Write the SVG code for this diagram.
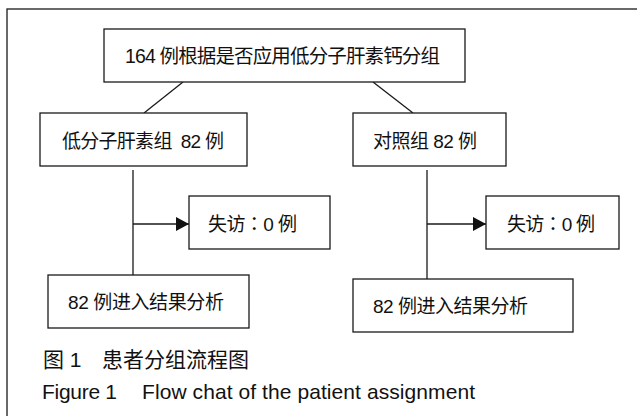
<svg xmlns="http://www.w3.org/2000/svg" width="637" height="416" viewBox="0 0 637 416">
<defs>
<style>
.box{fill:#fff;stroke:#1a1a1a;stroke-width:1.3}
.ln{fill:none;stroke:#1a1a1a;stroke-width:1.3}
text{font-family:"Liberation Sans","Noto Sans CJK SC",sans-serif;fill:#111;font-size:19px}
.top{font-size:19.5px}
.tc{font-family:"Liberation Sans","Noto Sans CJK TC",sans-serif}
.cap{font-size:21px}
</style>
<marker id="ah" markerWidth="13" markerHeight="14" refX="13" refY="7" orient="auto" markerUnits="userSpaceOnUse">
<path d="M0,0 L13,7 L0,14 Z" fill="#111"/>
</marker>
</defs>
<rect x="0" y="0" width="637" height="416" fill="#fff"/>
<rect x="7" y="9" width="640" height="420" fill="none" stroke="#1a1a1a" stroke-width="1.3"/>
<g id="connectors">
<line class="ln" x1="183" y1="82" x2="144" y2="113"/>
<line class="ln" x1="373" y1="82" x2="413" y2="113"/>
<line class="ln" x1="133" y1="170" x2="133" y2="275"/>
<line class="ln" x1="133" y1="224" x2="189" y2="224" marker-end="url(#ah)"/>
<line class="ln" x1="427" y1="170" x2="427" y2="279"/>
<line class="ln" x1="427" y1="224" x2="486" y2="224" marker-end="url(#ah)"/>
</g>
<g id="top">
<rect class="box" x="104" y="29" width="361" height="53"/>
<text class="top" x="125" y="63" textLength="315">164 例根据是否应用低分子肝素钙分组</text>
</g>
<g id="lmwh">
<rect class="box" x="40" y="113" width="207" height="53"/>
<text x="62" y="148" textLength="162" xml:space="preserve">低分子肝素组  82 例</text>
</g>
<g id="control">
<rect class="box" x="353" y="113" width="153" height="53"/>
<text x="373" y="148" textLength="104">对照组 82 例</text>
</g>
<g id="loss-left">
<rect class="box" x="189" y="196" width="141" height="53"/>
<text class="tc" x="208" y="231" textLength="89">失访：0 例</text>
</g>
<g id="loss-right">
<rect class="box" x="486" y="196" width="133" height="53"/>
<text class="tc" x="507" y="231" textLength="88">失访：0 例</text>
</g>
<g id="result-left">
<rect class="box" x="48" y="275" width="201" height="53"/>
<text x="68" y="309" textLength="156">82 例进入结果分析</text>
</g>
<g id="result-right">
<rect class="box" x="353" y="279" width="220" height="53"/>
<text x="373" y="313" textLength="155">82 例进入结果分析</text>
</g>
<g id="caption">
<text class="cap" x="43" y="367">图 1</text>
<text class="cap" x="102" y="367" textLength="147">患者分组流程图</text>
<text class="cap" x="42" y="399" textLength="75">Figure 1</text>
<text class="cap" x="142" y="399" textLength="333">Flow chat of the patient assignment</text>
</g>
</svg>
